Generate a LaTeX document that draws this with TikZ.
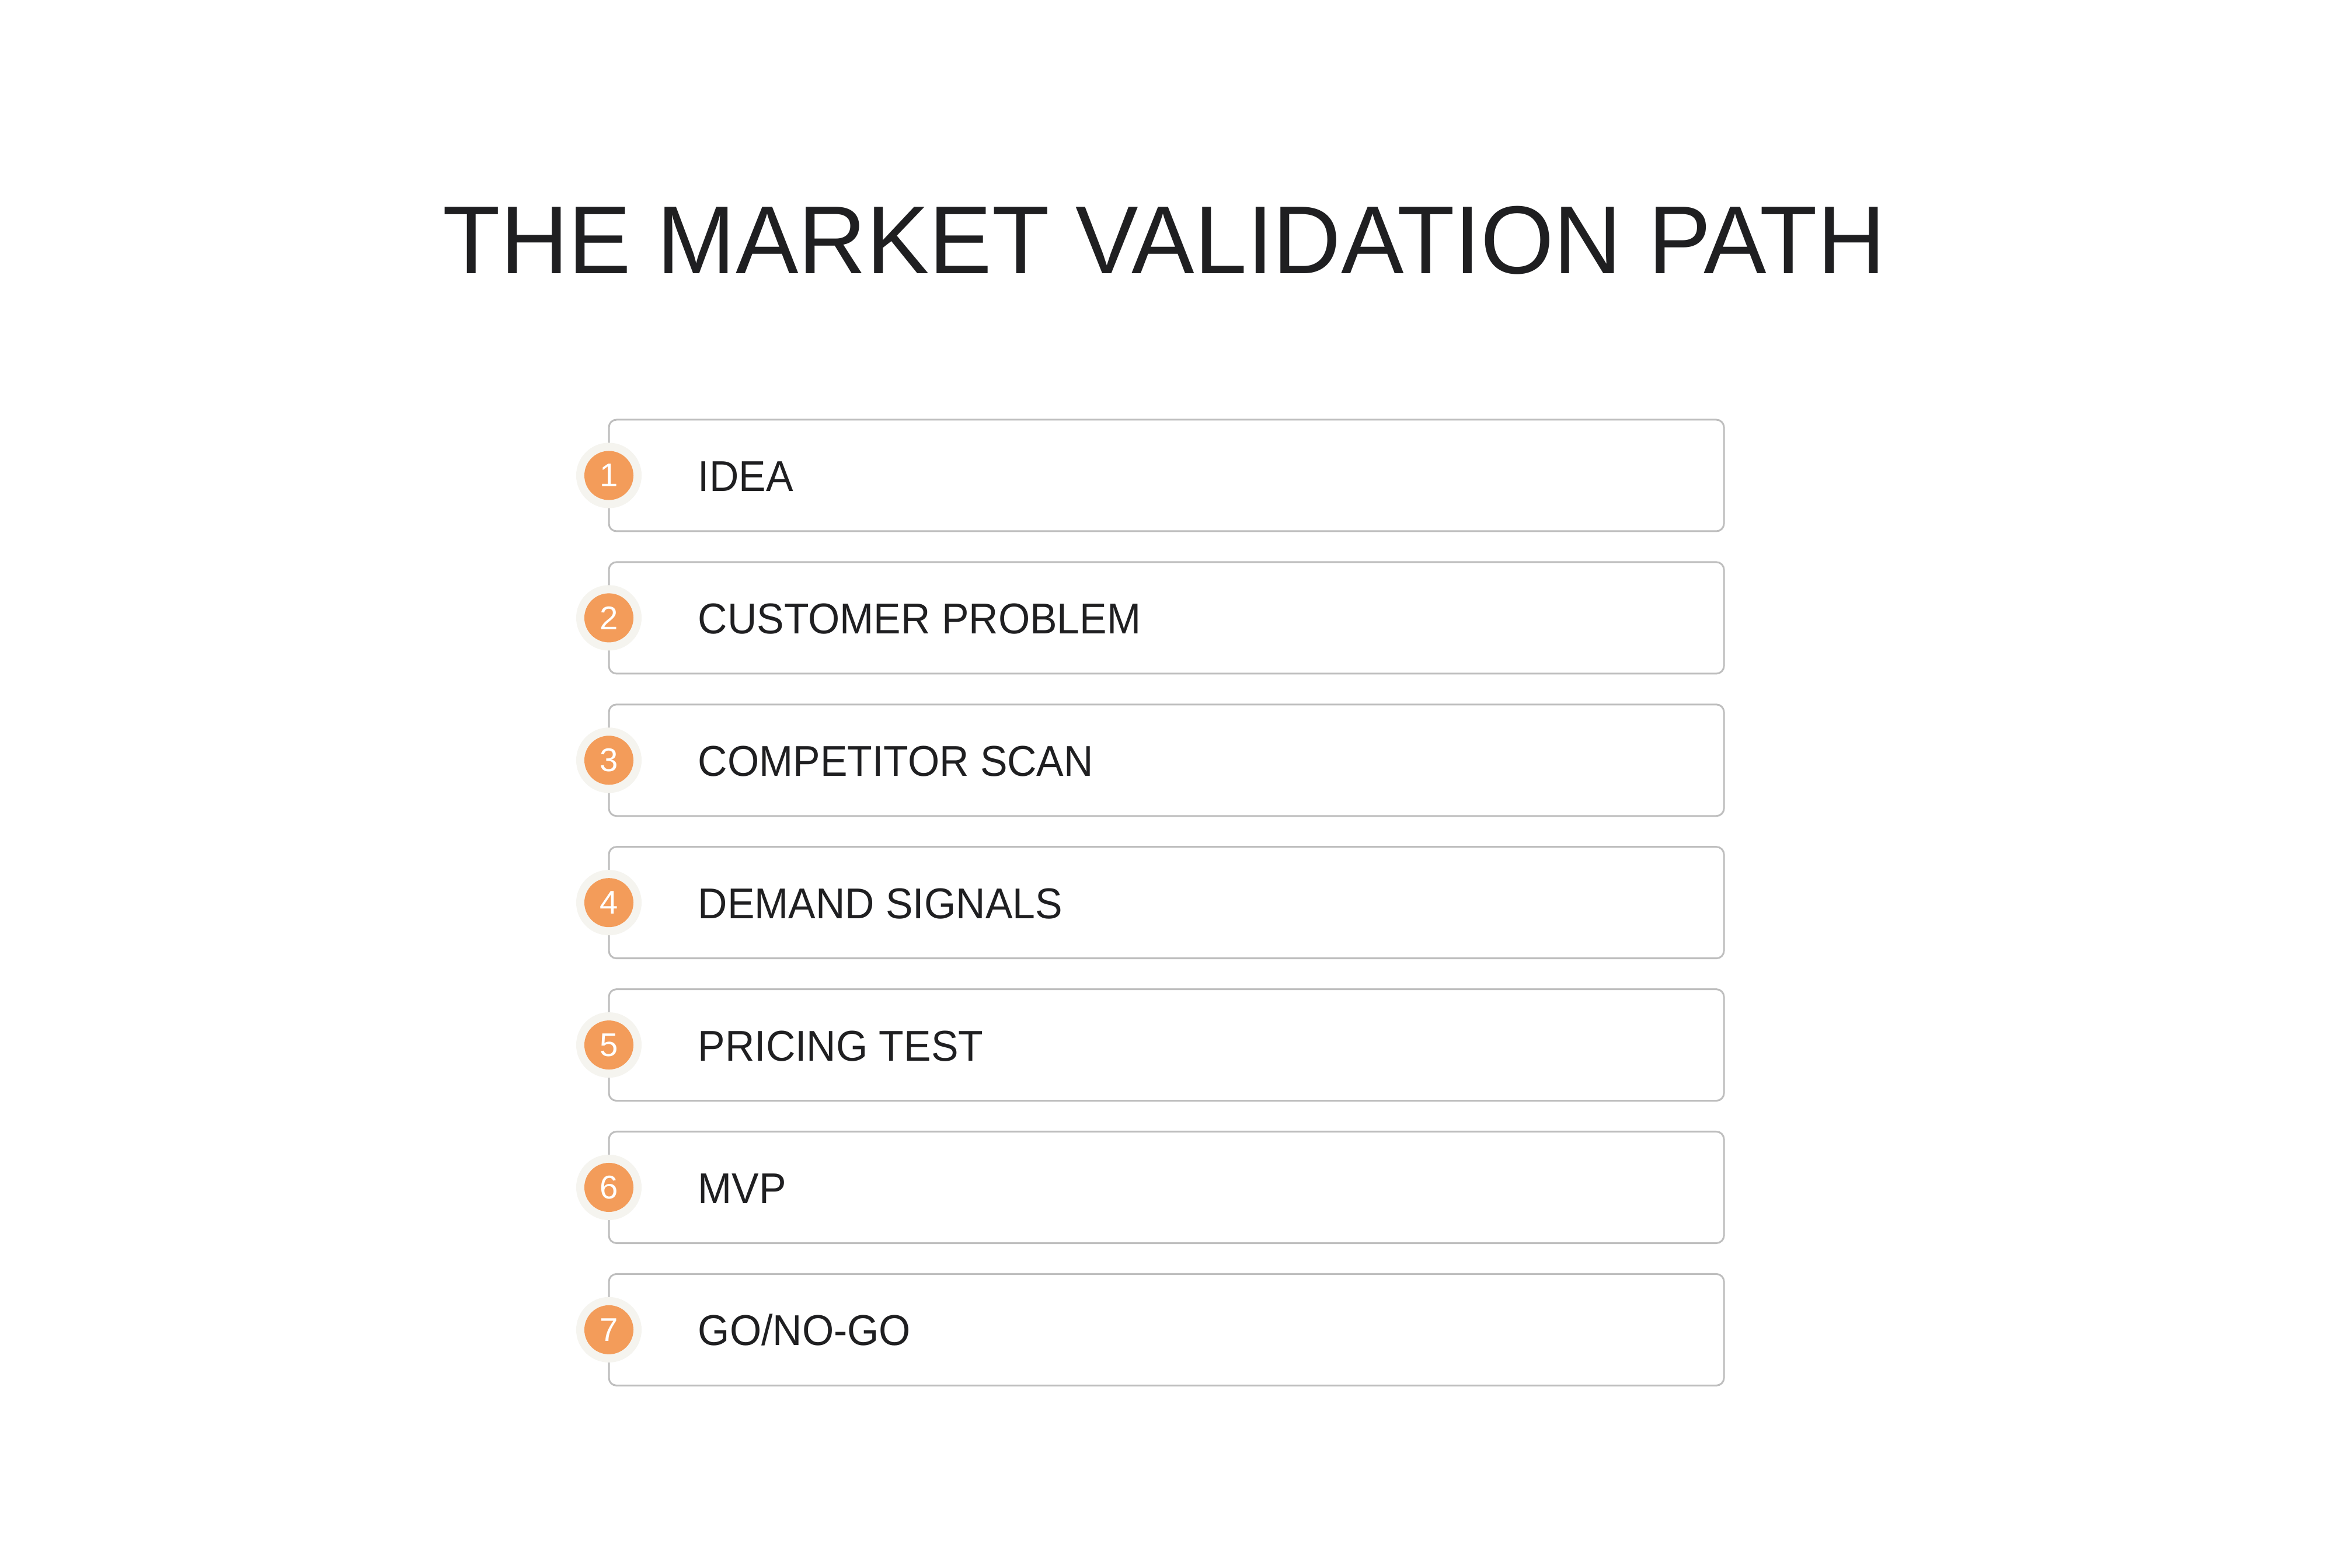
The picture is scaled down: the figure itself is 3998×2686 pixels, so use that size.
\documentclass[tikz,border=0pt]{standalone}
\usepackage{fontspec}
\setmainfont{Liberation Sans}
\definecolor{orng}{HTML}{F39C5A}
\definecolor{halo}{HTML}{F5F4EF}
\definecolor{edge}{HTML}{BEBEBE}
\definecolor{ink}{HTML}{1F1F21}
\tikzset{
  stepbox/.style={draw=edge, line width=0.03cm, rounded corners=0.13cm, fill=white},
  halodot/.style={circle, fill=halo, minimum size=1.12cm, inner sep=0},
  numdot/.style={circle, fill=orng, minimum size=0.84cm, inner sep=0, text=white, font=\fontsize{16}{16}\selectfont},
  steplabel/.style={anchor=base west, inner sep=0, text=ink, font=\fontsize{21}{21}\selectfont},
  titletext/.style={inner sep=0, text=ink, font=\fontsize{47}{47}\selectfont}
}
\begin{document}
\begin{tikzpicture}[x=0.01cm, y=-0.01cm]
\useasboundingbox[fill=white] (0,0) rectangle (3998,2686);
\node[titletext, anchor=base] (title) at (1994,469) {\scalebox{0.976}[1]{THE MARKET VALIDATION PATH}};
\foreach \i/\t in {1/{IDEA}, 2/{CUSTOMER PROBLEM}, 3/{COMPETITOR SCAN}, 4/{DEMAND SIGNALS}, 5/{PRICING TEST}, 6/{MVP}, 7/{GO/NO-GO}}{
  \pgfmathsetmacro{\cy}{814.5+(\i-1)*243.9}
  \draw[stepbox] (1043,\cy-95.5) rectangle (2953,\cy+95.5);
  \node[halodot] (h\i) at (1043,\cy) {};
  \node[numdot] (n\i) at (1043,\cy) {\i};
  \node[steplabel] (l\i) at (1195,\cy+27) {\scalebox{0.945}[1]{\t}};
}
\end{tikzpicture}
\end{document}
